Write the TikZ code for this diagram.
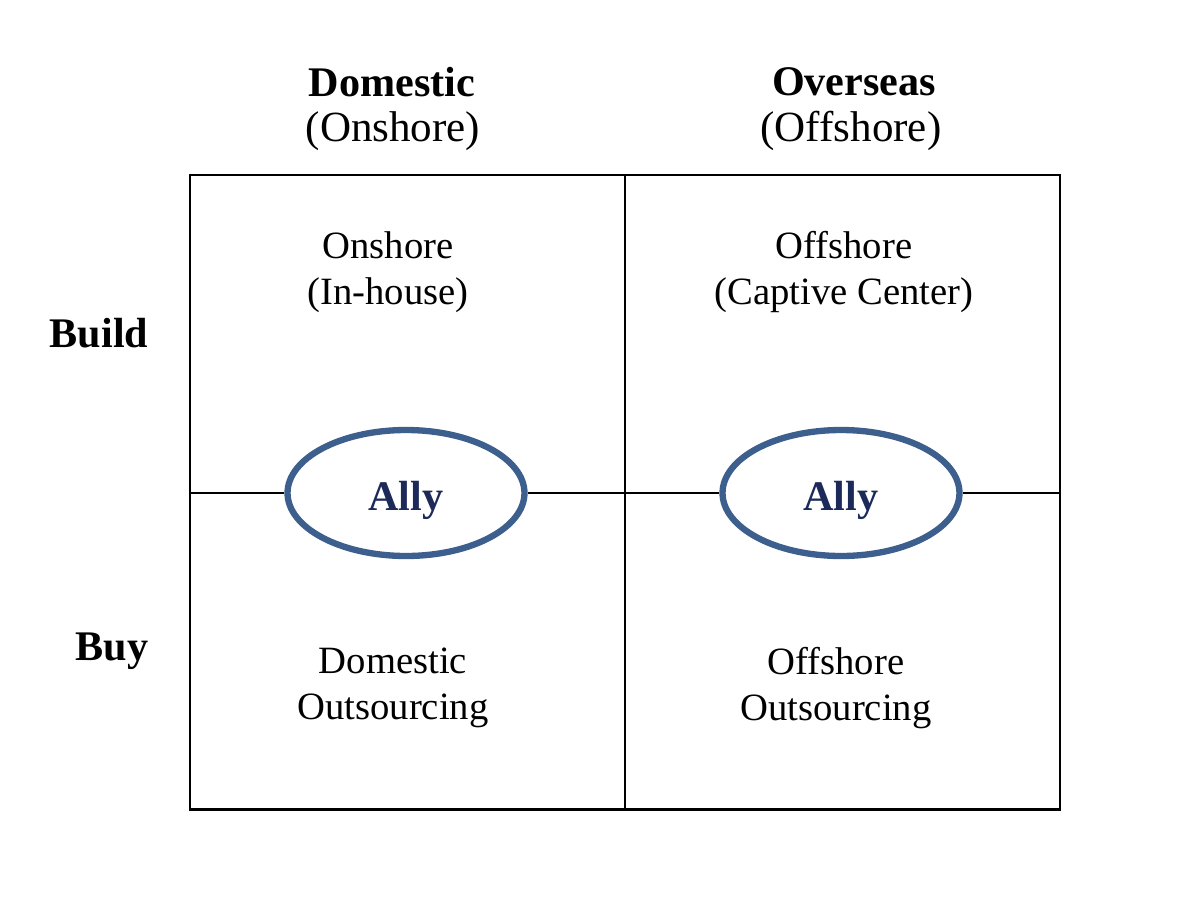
\documentclass[tikz,border=0pt]{standalone}
\usepackage{fontspec}
\setmainfont{Liberation Serif}
\usetikzlibrary{shapes.geometric}
\definecolor{allyline}{HTML}{3D5F8E}
\definecolor{allytext}{HTML}{1C2A5A}

\begin{document}
\begin{tikzpicture}[x=0.02cm, y=-0.02cm, align=center,
    txt/.style={font=\fontsize{22}{26.5}\selectfont},
    sub/.style={font=\fontsize{24.5}{28}\selectfont},
    head/.style={font=\fontsize{24}{28}\selectfont\bfseries},
    ally/.style={draw=allyline, line width=3.6pt, ellipse, minimum width=4.74cm,
        minimum height=2.52cm, text=allytext, font=\fontsize{24}{28}\selectfont\bfseries}]
        \useasboundingbox (0,0) rectangle (1178,900);

        \coordinate (tl) at (190,175);
        \coordinate (br) at (1060,809);
        \coordinate (tm) at (625,175);
        \coordinate (bm) at (625,809);
        \coordinate (ml) at (190,493);
        \coordinate (mr) at (1060,493);

        \node[head] (dom) at (392,82) {Domestic};
        \node[sub] (onsh) at (393,131) {(Onshore)};
        \node[head] (ovs) at (854,82) {Overseas};
        \node[sub] (offsh) at (851,131) {(Offshore)};

        \node[head] (build) at (99,333) {Build};
        \node[head] (buy) at (112,651) {Buy};

        \node[txt] (inh) at (388,272) {Onshore\\(In-house)};
        \node[txt] (capt) at (844,272) {Offshore\\(Captive Center)};
        \node[txt] (domout) at (393,688) {Domestic\\Outsourcing};
        \node[txt] (offout) at (836,688) {Offshore\\Outsourcing};

        \draw[line width=1.7pt] (tl) rectangle (br);
        \draw[line width=1.7pt] (tm) -- (bm);

        \node[ally] (a1) at (406,493) {\smash{\raisebox{-10pt}{Ally}}};
        \node[ally] (a2) at (841,493) {\smash{\raisebox{-10pt}{Ally}}};
        \draw[line width=1.7pt] (ml) -- (a1) -- (a2) -- (mr);
      \end{tikzpicture}
\end{document}
